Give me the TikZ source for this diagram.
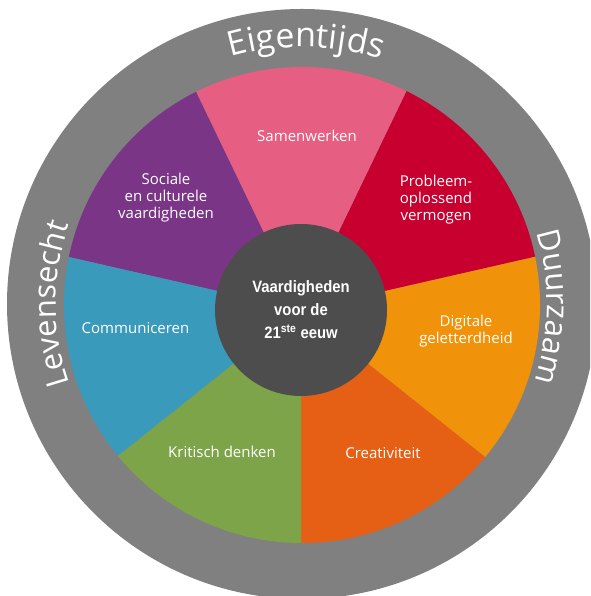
\documentclass[tikz,border=0pt]{standalone}
\usepackage{fontspec}
\newfontfamily\labelfont{Open Sans}
\newfontfamily\hubfont[FakeStretch=0.9]{Liberation Sans}
\usepackage{tikz}
\usetikzlibrary{calc}
\usetikzlibrary{decorations.text}
\definecolor{WheelGray}{HTML}{808080}
\definecolor{HubGray}{HTML}{4D4D4D}
\definecolor{SamenwerkenPink}{HTML}{E65E82}
\definecolor{ProbleemRed}{HTML}{C80030}
\definecolor{DigitaleOrange}{HTML}{F0920A}
\definecolor{CreativiteitOrange}{HTML}{E56014}
\definecolor{KritischGreen}{HTML}{7EA44A}
\definecolor{CommunicerenBlue}{HTML}{3A9ABC}
\definecolor{SocialePurple}{HTML}{7A3586}
\newcommand\ringfont{\labelfont\fontsize{31}{31}\selectfont}
\newcommand\topringfont{\labelfont\fontsize{34}{34}\selectfont}
\tikzset{
  wedgetext/.style={text=white, align=center, font=\labelfont\fontsize{15}{17}\selectfont},
  hub/.style={circle, fill=HubGray, minimum size=172pt, inner sep=0pt, text=white,
    align=center, font=\hubfont\bfseries\fontsize{16.5}{23}\selectfont},
  ringtext/.style={decorate, decoration={text along path, text align=center, text color=white}},
}

\begin{document}
\begin{tikzpicture}[x=1pt, y=1pt]
      \useasboundingbox (0,0) rectangle (590,596);
      \fill[white] (0,0) rectangle (590,596);
      \clip (0,0) rectangle (590,596);
      \coordinate (ringc) at (302,292);
      \coordinate (wheelc) at (302,291);
      \coordinate (apex) at (301,286);
      \fill[WheelGray] (ringc) circle[radius=295pt];
      \begin{scope}
        \clip (wheelc) circle[radius=238pt];
        \fill[CreativiteitOrange] (apex) -- +(-90:400pt) -- +(-64.29:400pt) -- +(-38.57:400pt) -- cycle;
        \fill[DigitaleOrange] (apex) -- +(-38.57:400pt) -- +(-12.86:400pt) -- +(12.86:400pt) -- cycle;
        \fill[ProbleemRed] (apex) -- +(12.86:400pt) -- +(38.57:400pt) -- +(64.29:400pt) -- cycle;
        \fill[SamenwerkenPink] (apex) -- +(64.29:400pt) -- +(90:400pt) -- +(115.71:400pt) -- cycle;
        \fill[SocialePurple] (apex) -- +(115.71:400pt) -- +(141.43:400pt) -- +(167.14:400pt) -- cycle;
        \fill[CommunicerenBlue] (apex) -- +(167.14:400pt) -- +(192.86:400pt) -- +(218.57:400pt) -- cycle;
        \fill[KritischGreen] (apex) -- +(218.57:400pt) -- +(244.29:400pt) -- +(270:400pt) -- cycle;
      \end{scope}
      \path[ringtext, decoration={text={|\topringfont|Eigentijds}}]
        ($(ringc)+(129.1:257pt)$) arc[start angle=129.1, end angle=49.1, radius=257pt];
      \path[ringtext, decoration={text={|\ringfont|Levensecht}}]
        ($(ringc)+(220:246pt)$) arc[start angle=220, end angle=140, radius=246pt];
      \path[ringtext, decoration={text={|\ringfont|Duurzaam}}]
        ($(ringc)+(39.3:245pt)$) arc[start angle=39.3, end angle=-40.7, radius=245pt];
      \node[wedgetext] (samenwerken) at (307,460.5) {Samenwerken};
      \node[wedgetext] (sociale) at (166,398) {Sociale\\en culturele\\vaardigheden};
      \node[wedgetext] (probleem) at (436,396.5) {Probleem-\\oplossend\\vermogen};
      \node[wedgetext] (communiceren) at (135.5,268) {Communiceren};
      \node[wedgetext] (digitale) at (466,265) {Digitale\\geletterdheid};
      \node[wedgetext] (kritisch) at (222,144.4) {Kritisch denken};
      \node[wedgetext] (creativiteit) at (383,143.2) {Creativiteit};
      \node[hub] (hubnode) at (apex) {Vaardigheden\\voor de\\21\textsuperscript{ste} eeuw};
    \end{tikzpicture}
\end{document}
